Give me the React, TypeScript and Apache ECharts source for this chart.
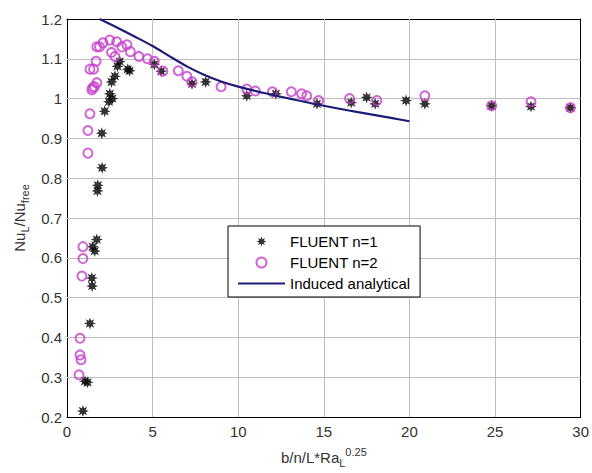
import React, { useEffect, useRef } from "react";
import * as echarts from "echarts";

// FLUENT n=1 (stars)
const n1X = [0.93, 1.05, 1.2, 1.34, 1.45, 1.47, 1.5, 1.62, 1.74, 1.8, 1.78, 2.05, 2.03, 2.2, 2.45, 2.5, 2.65, 2.6, 2.8, 2.95, 3.08, 3.55, 3.65, 5.1, 5.5, 7.3, 8.1, 10.5, 12.2, 14.6, 16.6, 17.5, 18.0, 19.8, 20.9, 24.8, 27.1, 29.4];
const n1Y = [0.215, 0.29, 0.287, 0.435, 0.549, 0.529, 0.628, 0.617, 0.646, 0.782, 0.768, 0.826, 0.913, 0.968, 0.992, 1.012, 1.0, 1.042, 1.056, 1.081, 1.093, 1.074, 1.07, 1.086, 1.069, 1.037, 1.042, 1.007, 1.012, 0.987, 0.99, 1.003, 0.987, 0.995, 0.987, 0.982, 0.98, 0.977];

// FLUENT n=2 (circles)
const n2X = [0.7, 0.76, 0.76, 0.82, 0.87, 0.93, 0.93, 1.22, 1.22, 1.34, 1.45, 1.5, 1.6, 1.74, 1.34, 1.55, 1.7, 1.74, 1.9, 2.1, 2.5, 2.9, 3.2, 3.5, 2.6, 2.8, 3.7, 4.2, 4.7, 5.1, 5.6, 6.5, 7.0, 7.3, 9.0, 10.5, 11.0, 12.0, 13.1, 13.7, 14.0, 14.7, 16.5, 18.1, 20.9, 24.8, 27.1, 29.4];
const n2Y = [0.306, 0.398, 0.356, 0.344, 0.554, 0.598, 0.628, 0.863, 0.92, 0.962, 1.022, 1.027, 1.03, 1.04, 1.074, 1.074, 1.094, 1.13, 1.13, 1.14, 1.147, 1.143, 1.13, 1.135, 1.116, 1.106, 1.118, 1.106, 1.1, 1.094, 1.069, 1.07, 1.056, 1.042, 1.03, 1.024, 1.019, 1.017, 1.017, 1.012, 1.007, 0.995, 1.0, 0.995, 1.007, 0.982, 0.992, 0.977];

// Induced analytical (curve)
const curveX = [1.9, 3.0, 4.0, 5.0, 6.0, 7.0, 8.0, 9.0, 10.0, 11.5, 13.0, 15.0, 17.0, 19.0, 20.0];
const curveY = [1.2, 1.177, 1.155, 1.132, 1.106, 1.081, 1.06, 1.043, 1.03, 1.014, 1.0, 0.982, 0.966, 0.951, 0.943];

const xTicks = [0, 5, 10, 15, 20, 25, 30];
const yTicks = [0.2, 0.3, 0.4, 0.5, 0.6, 0.7, 0.8, 0.9, 1, 1.1, 1.2];

const FONT = "'Liberation Sans', Arial, sans-serif";
const STAR =
  "path://M20,10L14.6,11.9L17.07,17.07L11.9,14.6L10,20L8.1,14.6L2.93,17.07L5.4,11.9L0,10L5.4,8.1L2.93,2.93L8.1,5.4L10,0L11.9,5.4L17.07,2.93L14.6,8.1Z";
const MAGENTA = "#c63fcc";
const NAVY = "#1c1c78";
const GRIDGRAY = "#bdbdbd";

export default function App() {
  const ref = useRef<HTMLDivElement>(null);
  useEffect(() => {
    const chart = echarts.init(ref.current!, null, { renderer: "svg" });
    const zip = (xs: number[], ys: number[]) => xs.map((x, i) => [x, ys[i]]);
    const nameRich = {
      a: { fontSize: 15, fontFamily: FONT, color: "#333", lineHeight: 22, verticalAlign: "middle" },
      sub: { fontSize: 11, fontFamily: FONT, color: "#333", lineHeight: 11, verticalAlign: "bottom" },
      sup: { fontSize: 11, fontFamily: FONT, color: "#333", lineHeight: 11, verticalAlign: "top" },
    };
    const labelStyle = { fontSize: 15, fontFamily: FONT, color: "#333" };
    const tick = { show: true, inside: true, length: 5, lineStyle: { color: "#000" } };
    const axisLine = { show: true, onZero: false, lineStyle: { color: "#000", width: 1 } };
    const split = { show: true, lineStyle: { color: GRIDGRAY, type: "solid", width: 1 } };
    const xMin = xTicks[0];
    const xMax = xTicks[xTicks.length - 1];
    const yMin = yTicks[0];
    const yMax = yTicks[yTicks.length - 1];
    const gridLines = [
      ...xTicks.slice(1, -1).map((v) => ({ xAxis: v })),
      ...yTicks.slice(1, -1).map((v) => ({ yAxis: v })),
    ];
    chart.setOption({
      animation: false,
      grid: { left: 67, right: 9, top: 19, bottom: 50 },
      legend: {
        orient: "vertical",
        left: 228,
        top: 226,
        backgroundColor: "#fff",
        borderColor: "#000",
        borderWidth: 1,
        borderRadius: 0,
        padding: [8, 10, 6, 10],
        itemWidth: 47,
        itemHeight: 10,
        itemGap: 6,
        z: 20,
        textStyle: { fontSize: 15, fontFamily: FONT, color: "#000" },
        data: [
          "FLUENT n=1",
          "FLUENT n=2",
          { name: "Induced analytical", icon: "path://M0,0L47,0L47,2L0,2Z", itemStyle: { color: NAVY } },
        ],
      },
      xAxis: [
        {
          type: "value",
          min: xMin,
          max: xMax,
          interval: 5,
          axisLine,
          axisTick: tick,
          axisLabel: { ...labelStyle, margin: 7 },
          splitLine: split,
          name: "{a|b/n/L*Ra}{sub|L}{sup|0.25}",
          nameLocation: "middle",
          nameGap: 29,
          nameTextStyle: { rich: nameRich },
        },
        {
          type: "value",
          position: "top",
          min: xMin,
          max: xMax,
          interval: 5,
          axisLine,
          axisTick: tick,
          axisLabel: { show: false },
          splitLine: { show: false },
        },
      ],
      yAxis: [
        {
          type: "value",
          min: yMin,
          max: yMax,
          interval: 0.1,
          axisLine,
          axisTick: tick,
          axisLabel: { ...labelStyle, margin: 5, formatter: (v: number) => String(Math.round(v * 10) / 10) },
          splitLine: split,
          name: "{a|Nu}{sub|L}{a|/Nu}{sub|free}",
          nameLocation: "middle",
          nameGap: 33,
          nameTextStyle: { rich: nameRich },
        },
        {
          type: "value",
          position: "right",
          min: yMin,
          max: yMax,
          interval: 0.1,
          axisLine,
          axisTick: tick,
          axisLabel: { show: false },
          splitLine: { show: false },
        },
      ],
      series: [
        {
          name: "FLUENT n=1",
          type: "scatter",
          symbol: STAR,
          symbolSize: 12,
          itemStyle: { color: "#000" },
          data: zip(n1X, n1Y),
          z: 2,
          markLine: {
            silent: true,
            symbol: ["none", "none"],
            label: { show: false },
            emphasis: { disabled: true },
            lineStyle: { type: "solid", color: GRIDGRAY, width: 1 },
            data: gridLines,
            z: 1,
          },
        },
        {
          name: "FLUENT n=2",
          type: "scatter",
          symbol: "circle",
          symbolSize: 9,
          itemStyle: { color: "rgba(0,0,0,0)", borderColor: MAGENTA, borderWidth: 2 },
          data: zip(n2X, n2Y),
          z: 3,
        },
        {
          name: "Induced analytical",
          type: "line",
          symbol: "none",
          smooth: 0.3,
          lineStyle: { color: NAVY, width: 2.2 },
          itemStyle: { color: NAVY },
          data: zip(curveX, curveY),
          z: 4,
        },
      ],
    });
    return () => chart.dispose();
  }, []);
  return <div ref={ref} style={{ position: "absolute", left: 0, top: 0, width: 592, height: 473, background: "#fff" }} />;
}
